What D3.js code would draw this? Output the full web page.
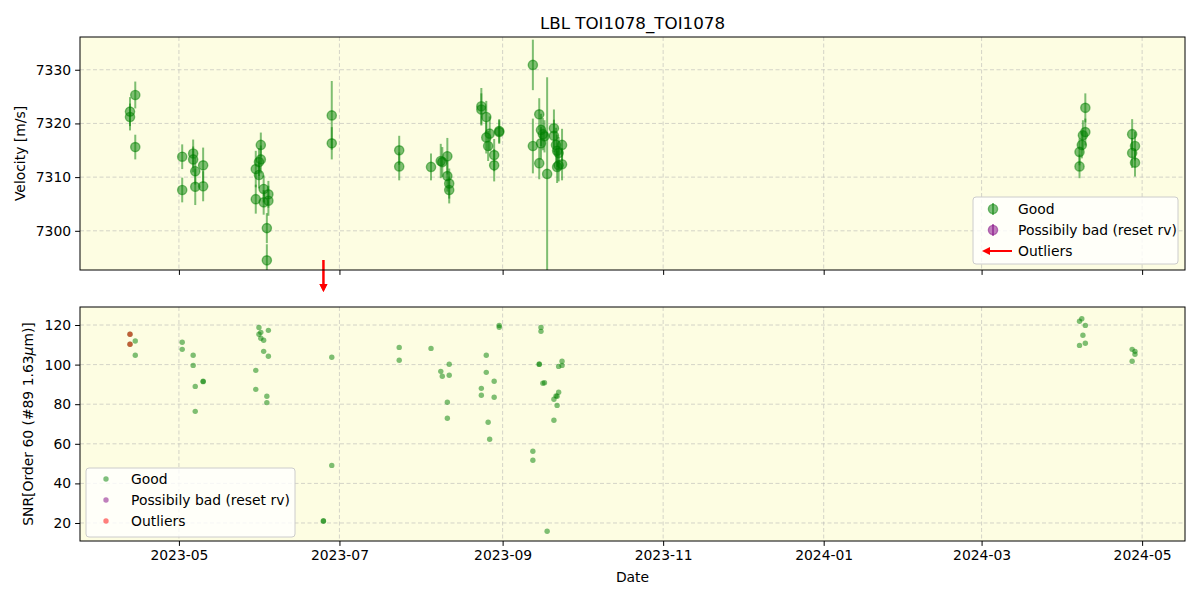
<!DOCTYPE html>
<html><head><meta charset="utf-8">
<script src="https://cdn.jsdelivr.net/npm/d3@7"></script>
<style>body{margin:0;background:#fff}svg{font-family:"DejaVu Sans",sans-serif}</style>
</head><body><svg id="c" width="1200" height="600"></svg>
<script>
const dates = ["2023-04-12T10","2023-04-12T10","2023-04-14T10","2023-04-14T10","2023-05-02T06","2023-05-02T06","2023-05-06T10","2023-05-06T10","2023-05-07T05","2023-05-07T05","2023-05-10T05","2023-05-10T05","2023-05-30T05","2023-05-30T05","2023-05-31T10","2023-05-31T10","2023-06-01T03","2023-06-01T03","2023-06-02T05","2023-06-02T05","2023-06-03T10","2023-06-03T10","2023-06-04T00","2023-06-04T00","2023-06-24T22","2023-06-24T22","2023-06-28T02","2023-06-28T02","2023-07-23T17","2023-07-23T17","2023-08-04T19","2023-08-08T12","2023-08-09T02","2023-08-11T00","2023-08-11T00","2023-08-11T17","2023-08-11T17","2023-08-23T22","2023-08-23T22","2023-08-25T19","2023-08-25T19","2023-08-26T12","2023-08-27T02","2023-08-28T19","2023-08-28T19","2023-08-30T17","2023-08-30T17","2023-09-12T12","2023-09-12T12","2023-09-14T22","2023-09-14T22","2023-09-15T14","2023-09-15T14","2023-09-16T07","2023-09-16T22","2023-09-17T22","2023-09-20T12","2023-09-20T12","2023-09-21T07","2023-09-21T17","2023-09-21T17","2023-09-22T07","2023-09-22T07","2023-09-23T14","2023-09-23T14","2024-04-07T05","2024-04-07T05","2024-04-08T02","2024-04-08T12","2024-04-09T10","2024-04-09T10","2024-04-27T05","2024-04-27T05","2024-04-28T07","2024-04-28T07"];
const rv = [7322.2,7321.2,7325.3,7315.6,7313.8,7307.6,7314.4,7313.3,7311.1,7308.2,7312.2,7308.3,7311.5,7305.9,7312.8,7310.4,7313.3,7316.0,7307.8,7305.3,7300.5,7294.5,7306.8,7305.6,7250,7250,7321.5,7316.3,7315.0,7312.0,7311.9,7313.0,7312.8,7313.9,7310.2,7308.8,7307.6,7323.2,7322.6,7321.2,7317.4,7315.8,7318.1,7314.1,7312.2,7318.6,7318.4,7330.9,7315.8,7321.7,7312.6,7318.8,7316.3,7318.0,7317.6,7310.6,7319.1,7317.7,7316.0,7314.9,7311.9,7312.2,7314.5,7316.0,7312.4,7314.7,7312.0,7316.0,7317.8,7318.4,7322.9,7318.0,7314.5,7315.8,7312.7];
const rvErr = [2.7,2.5,2.5,2.3,2.3,2.3,2.6,2.4,2.5,3.4,3.3,2.8,3.4,2.7,2.6,2.5,2.6,2.3,2.5,2.3,2.8,3.0,2.5,2.8,3,3,6.4,3.0,2.7,2.6,2.5,3.2,2.8,3.4,2.9,2.8,2.5,3.4,3.0,3.0,3.0,2.8,3.2,3.0,3.0,2.2,2.2,4.7,5.1,3.0,3.0,3.0,3.0,3.0,3.0,18,3.5,3.0,3.2,3.0,3.0,3.0,3.0,3.0,3.0,2.5,2.2,2.5,2.8,2.5,2.7,2.8,2.8,2.7,2.6];
const snr = [115.3,110.3,111.9,104.7,111.3,107.7,104.7,99.6,89.0,76.4,91.4,91.6,97.1,87.5,118.8,115.3,116.3,113.3,112.3,106.7,84.0,80.8,117.3,104.2,20.9,21.1,49.1,103.7,108.7,102.2,108.2,96.6,94.1,81.0,72.9,100.2,94.6,88.0,84.5,104.7,96.1,70.9,62.3,91.6,83.5,119.8,118.9,56.2,51.7,100.3,100.1,118.8,116.8,90.6,90.8,15.8,82.5,71.9,84.2,84.0,79.4,99.1,86.0,101.7,99.6,121.9,109.7,123.2,114.8,119.8,110.8,107.7,101.7,106.7,105.2];
const snrOutlier = [1,1,0,0,0,0,0,0,0,0,0,0,0,0,0,0,0,0,0,0,0,0,0,0,0,0,0,0,0,0,0,0,0,0,0,0,0,0,0,0,0,0,0,0,0,0,0,0,0,0,0,0,0,0,0,0,0,0,0,0,0,0,0,0,0,0,0,0,0,0,0,0,0,0,0];
const xDomain = ["2023-03-24T10","2024-05-17T07"];
const rvDomain = [7292.7, 7336.1];
const snrDomain = [10.9, 129.1];
const rvTicks = [7300,7310,7320,7330];
const snrTicks = [20,40,60,80,100,120];
const legendLabels = ["Good","Possibily bad (reset rv)","Outliers"];

const parse = d3.timeParse("%Y-%m-%dT%H");
const data = dates.map((d,i)=>({t:parse(d), rv:rv[i], e:rvErr[i], snr:snr[i], out:snrOutlier[i]}));
const svg = d3.select("#c");
const L=80, R=1185, T1=37, B1=270, T2=307, B2=541;
const x = d3.scaleTime().domain(xDomain.map(parse)).range([L,R]);
const y1 = d3.scaleLinear().domain(rvDomain).range([B1,T1]);
const y2 = d3.scaleLinear().domain(snrDomain).range([B2,T2]);
const green="#008000", purple="#800080", red="#ff0000";
const xTicks = d3.timeMonth.range(new Date(2023,4,1), new Date(2024,5,2), 2);

function panel(y, top, bottom, ticks){
  const g = svg.append("g");
  g.append("rect").attr("x",L).attr("y",top).attr("width",R-L).attr("height",bottom-top).attr("fill","#fdfde2");
  const grid = g.append("g").attr("stroke","#b0b0b0").attr("stroke-opacity",0.6).attr("stroke-dasharray","4,2.5").attr("stroke-width",0.9);
  xTicks.forEach(t=>grid.append("line").attr("x1",x(t)).attr("x2",x(t)).attr("y1",top).attr("y2",bottom));
  ticks.forEach(v=>grid.append("line").attr("x1",L).attr("x2",R).attr("y1",y(v)).attr("y2",y(v)));
  return g;
}
const g1 = panel(y1,T1,B1,rvTicks);
const g2 = panel(y2,T2,B2,snrTicks);

svg.append("clipPath").attr("id","cp1").append("rect").attr("x",L).attr("y",T1).attr("width",R-L).attr("height",B1-T1);
const pts1 = svg.append("g").attr("clip-path","url(#cp1)");
data.filter(d=>d.rv>rvDomain[0]).forEach(d=>{
  pts1.append("line").attr("x1",x(d.t)).attr("x2",x(d.t)).attr("y1",y1(d.rv-d.e)).attr("y2",y1(d.rv+d.e))
    .attr("stroke",green).attr("stroke-opacity",0.5).attr("stroke-width",2);
  pts1.append("circle").attr("cx",x(d.t)).attr("cy",y1(d.rv)).attr("r",4.6)
    .attr("fill",green).attr("fill-opacity",0.5).attr("stroke",green).attr("stroke-opacity",0.5).attr("stroke-width",1.4);
});
function arrow(g,x0,y0,x1,y1a){
  const ang=Math.atan2(y1a-y0,x1-x0), hl=8, hw=4;
  const bx=x1-hl*Math.cos(ang), by=y1a-hl*Math.sin(ang);
  g.append("line").attr("x1",x0).attr("y1",y0).attr("x2",bx).attr("y2",by).attr("stroke",red).attr("stroke-width",2);
  g.append("path").attr("d",`M${x1},${y1a}L${bx-hw*Math.sin(ang)},${by+hw*Math.cos(ang)}L${bx+hw*Math.sin(ang)},${by-hw*Math.cos(ang)}Z`).attr("fill",red);
}
data.filter(d=>d.rv<rvDomain[0]).forEach(d=>arrow(svg,x(d.t),B1-10,x(d.t),B1+22));

data.forEach(d=>{
  g2.append("circle").attr("cx",x(d.t)).attr("cy",y2(d.snr)).attr("r",2.7).attr("fill",green).attr("fill-opacity",0.5);
});
data.filter(d=>d.out).forEach(d=>{
  g2.append("circle").attr("cx",x(d.t)).attr("cy",y2(d.snr)).attr("r",2.7).attr("fill",red).attr("fill-opacity",0.5);
});

function frame(top,bottom){
  svg.append("rect").attr("x",L).attr("y",top).attr("width",R-L).attr("height",bottom-top).attr("fill","none").attr("stroke","#000").attr("stroke-width",1);
}
const fmt = d3.timeFormat("%Y-%m");
const ax1 = svg.append("g").attr("transform",`translate(0,${B1})`).call(d3.axisBottom(x).tickValues(xTicks).tickSize(4.9).tickFormat(""));
const ax2 = svg.append("g").attr("transform",`translate(0,${B2})`).call(d3.axisBottom(x).tickValues(xTicks).tickSize(4.9).tickPadding(4).tickFormat(fmt));
const ay1 = svg.append("g").attr("transform",`translate(${L},0)`).call(d3.axisLeft(y1).tickValues(rvTicks).tickSize(4.9).tickPadding(4).tickFormat(d3.format("d")));
const ay2 = svg.append("g").attr("transform",`translate(${L},0)`).call(d3.axisLeft(y2).tickValues(snrTicks).tickSize(4.9).tickPadding(4).tickFormat(d3.format("d")));
[ax1,ax2,ay1,ay2].forEach(a=>{a.select(".domain").remove();a.selectAll("text").attr("font-size",13.9).attr("fill","#000").attr("font-family","DejaVu Sans");a.selectAll("line").attr("stroke","#000");});
frame(T1,B1); frame(T2,B2);

svg.append("text").attr("x",(L+R)/2).attr("y",29).attr("text-anchor","middle").attr("font-size",16.7).text("LBL TOI1078_TOI1078");
svg.append("text").attr("x",(L+R)/2).attr("y",582).attr("text-anchor","middle").attr("font-size",13.9).text("Date");
svg.append("text").attr("transform",`translate(25,${(T1+B1)/2}) rotate(-90)`).attr("text-anchor","middle").attr("font-size",13.9).text("Velocity [m/s]");
const yl2 = svg.append("text").attr("transform",`translate(33,${(T2+B2)/2}) rotate(-90)`).attr("text-anchor","middle").attr("font-size",13.9);
yl2.append("tspan").text("SNR[Order 60 (#89 1.63");
yl2.append("tspan").attr("font-style","italic").text("μ");
yl2.append("tspan").text("m)]");

function legendBox(x0,y0,w,h){
  svg.append("rect").attr("x",x0).attr("y",y0).attr("width",w).attr("height",h).attr("rx",3)
    .attr("fill","#fff").attr("fill-opacity",0.8).attr("stroke","#ccc").attr("stroke-width",1);
}
legendBox(973,197,205,67);
const lc=[green,purple];
[0,1].forEach(i=>{
  const yy=209+i*21;
  svg.append("line").attr("x1",993).attr("x2",993).attr("y1",yy-6).attr("y2",yy+6).attr("stroke",lc[i]).attr("stroke-opacity",0.5).attr("stroke-width",2);
  svg.append("circle").attr("cx",993).attr("cy",yy).attr("r",4.6).attr("fill",lc[i]).attr("fill-opacity",0.5).attr("stroke",lc[i]).attr("stroke-opacity",0.5).attr("stroke-width",1.4);
});
arrow(svg,1012,251,982,251);
legendLabels.forEach((t,i)=>svg.append("text").attr("x",1018).attr("y",209+i*21+5).attr("font-size",13.9).text(t));

legendBox(86,468,209,69);
[green,purple,red].forEach((c,i)=>{
  const yy=479+i*21;
  svg.append("circle").attr("cx",106).attr("cy",yy).attr("r",2.7).attr("fill",c).attr("fill-opacity",0.5);
  svg.append("text").attr("x",131).attr("y",yy+5).attr("font-size",13.9).text(legendLabels[i]);
});
</script></body></html>
